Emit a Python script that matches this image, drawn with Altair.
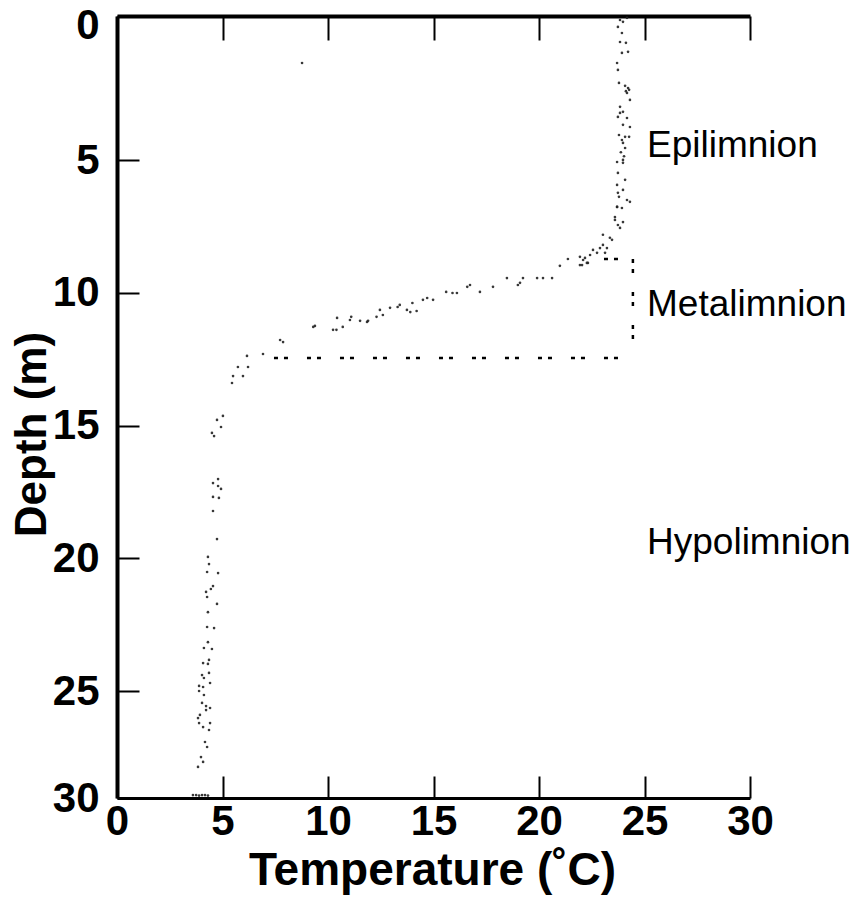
import altair as alt
import pandas as pd

FONT = "Liberation Sans"

# ---- tick values / labels ----
x_tick_values = [0, 5, 10, 15, 20, 25, 30]
y_tick_values = [-0.43, 5, 10, 15, 20, 25, 29.02]
y_tick_labels = ["0", "5", "10", "15", "20", "25", "30"]

# ---- temperature profile readings (deg C, m) ----
epi_temp = [23.84, 23.98, 24.17, 23.74, 23.93, 23.84, 24.12, 23.93, 24.22, 23.70,
            23.74, 23.79, 24.08, 24.27, 24.17, 24.31, 23.84, 23.98, 23.74, 24.17,
            23.98, 24.31, 23.79, 24.08, 24.27, 23.98, 24.08, 23.70, 23.98, 23.74,
            24.08, 23.70, 23.98, 23.79, 24.17, 24.31, 23.70, 23.93, 23.60, 23.98,
            23.74, 23.84, 23.84, 23.93, 23.98, 23.74, 23.70, 23.60, 24.22, 24.12,
            23.88, 24.03]
epi_depth = [-0.28, -0.21, -0.36, -0.02, 0.21, 0.55, 0.58, 0.96, 0.92, 1.34,
             1.60, 2.09, 2.20, 2.35, 2.47, 2.73, 2.99, 3.18, 3.37, 3.41,
             3.67, 3.75, 4.05, 4.12, 4.12, 4.35, 4.54, 5.07, 4.99, 5.48,
             5.74, 5.93, 6.12, 6.38, 6.50, 6.57, 6.76, 6.80, 7.14, 7.33,
             7.44, 7.55, 3.22, 4.24, 5.10, 6.23, 6.76, 7.25, 2.28, 2.40,
             4.70, 4.85]

meta_temp = [23.46, 23.03, 22.89, 23.22, 22.56, 22.75, 23.13, 22.42, 22.09, 22.32,
             22.04, 23.36, 23.03, 21.94, 22.18, 21.94, 22.27, 21.37, 20.99, 20.62,
             20.19, 19.91, 19.24, 19.10, 19.00, 18.48, 17.82, 16.73, 16.11, 14.98,
             14.50, 13.74, 12.94, 12.46, 11.85, 11.52, 11.04, 10.43, 10.24, 9.38,
             7.73, 6.92, 6.16, 5.73, 6.21, 5.97, 5.50, 5.45, 17.20, 16.60,
             15.90, 15.60, 14.70, 14.00, 13.40, 13.90, 14.20, 13.30, 12.60, 12.30,
             11.90, 11.10, 10.70, 10.40, 9.30, 7.87, 5.02, 4.74, 4.93, 4.50,
             4.60]
meta_depth = [8.00, 8.19, 8.31, 8.31, 8.38, 8.49, 8.49, 8.57, 8.76, 8.87,
              8.95, 7.92, 7.81, 8.64, 8.68, 8.95, 8.87, 8.72, 8.98, 9.44,
              9.44, 9.44, 9.44, 9.62, 9.70, 9.44, 9.77, 9.70, 10.00, 10.26,
              10.26, 10.64, 10.56, 10.64, 11.09, 11.05, 11.02, 10.94, 11.39, 11.24,
              11.77, 12.30, 12.37, 12.79, 12.79, 13.13, 13.13, 13.39, 9.96, 9.77,
              10.00, 9.96, 10.19, 10.38, 10.45, 10.72, 10.68, 10.53, 10.83, 10.90,
              11.05, 10.90, 11.28, 11.39, 11.28, 11.85, 14.63, 14.78, 15.05, 15.27,
              15.39]

hypo_temp = [4.79, 4.55, 4.79, 4.93, 4.55, 4.83, 4.55, 4.74, 4.31, 4.36,
             4.27, 4.79, 4.55, 4.45, 4.22, 4.27, 4.74, 4.31, 4.27, 4.60,
             4.31, 4.12, 4.50, 4.36, 4.31, 4.08, 4.36, 4.03, 4.12, 4.41,
             3.89, 4.08, 3.89, 4.12, 4.03, 4.22, 4.41, 4.22, 3.93, 3.84,
             3.89, 4.08, 4.41, 4.36, 4.17, 4.27, 3.98, 4.08, 3.84, 3.60,
             3.75, 3.89, 4.03, 4.17, 4.31]
hypo_depth = [17.01, 17.16, 17.27, 17.38, 17.68, 17.72, 18.21, 19.27, 19.94, 20.21,
              20.51, 20.55, 21.04, 21.15, 21.26, 21.45, 21.71, 22.02, 22.58, 22.62,
              23.15, 23.37, 23.41, 23.82, 23.97, 23.94, 24.31, 24.39, 24.50, 24.69,
              24.80, 24.84, 24.99, 25.14, 25.44, 25.56, 25.63, 25.71, 25.89, 26.01,
              26.20, 26.35, 26.20, 26.46, 26.91, 27.10, 27.48, 27.66, 27.85, 28.91,
              28.91, 28.93, 28.91, 28.91, 28.93]

outlier_temp = [8.77]
outlier_depth = [1.34]

# ---- metalimnion bracket (dashed) ----
seg_t1 = [23.08, 24.45, 7.44]
seg_t2 = [24.45, 24.45, 24.45]
seg_d1 = [8.72, 8.72, 12.45]
seg_d2 = [8.72, 12.45, 12.45]

# ---- zone labels ----
zone_names = ["Epilimnion", "Metalimnion", "Hypolimnion"]
zone_temp = [25.12, 25.12, 25.12]
zone_depth = [4.46, 10.45, 19.42]

pts = pd.DataFrame({
    "temp": epi_temp + meta_temp + hypo_temp + outlier_temp,
    "depth": epi_depth + meta_depth + hypo_depth + outlier_depth,
})
segs = pd.DataFrame({"t1": seg_t1, "t2": seg_t2, "d1": seg_d1, "d2": seg_d2})
zones = pd.DataFrame({"name": zone_names, "temp": zone_temp, "depth": zone_depth})

x_scale = alt.Scale(domain=[0, 30], nice=False, zero=False)
y_scale = alt.Scale(domain=[y_tick_values[0], y_tick_values[-1]], nice=False,
                    zero=False, reverse=True)

label_expr = "{}[indexof({}, datum.value)]".format(
    "[" + ",".join("'%s'" % s for s in y_tick_labels) + "]",
    "[" + ",".join(str(v) for v in y_tick_values) + "]",
)

x_bottom = alt.Axis(
    orient="bottom", values=x_tick_values, format="d", grid=False,
    title="Temperature (˚C)", titleFont=FONT, titleFontSize=46,
    titleFontWeight="bold", titleColor="black", titleX=315, titleY=86,
    titleBaseline="alphabetic", titleAlign="center",
    labelFont=FONT, labelFontSize=42, labelFontWeight="bold", labelColor="black",
    labelFlush=False, labelPadding=25, labelBaseline="top",
    tickSize={"expr": "-22"}, tickWidth=2, tickColor="black",
    domainWidth=3, domainColor="black",
)
x_top = alt.Axis(
    orient="top", values=x_tick_values, grid=False, labels=False, title=None,
    tickSize={"expr": "-24"}, tickWidth=2, tickColor="black",
    domainWidth=4, domainColor="black",
)
y_left = alt.Axis(
    orient="left", values=y_tick_values, labelExpr=label_expr, grid=False,
    title="Depth (m)", titleFont=FONT, titleFontSize=44, titleFontWeight="bold",
    titleColor="black", titleX=-72, titleY=418, titleAngle=270,
    titleBaseline="alphabetic", titleAlign="center",
    labelFont=FONT, labelFontSize=42, labelFontWeight="bold", labelColor="black",
    labelFlush=False, labelPadding=40,
    labelOffset={"condition": {"test": "datum.value < 0", "value": 9}, "value": 0},
    tickSize={"expr": "-22"}, tickWidth=2, tickColor="black",
    domainWidth=4, domainColor="black",
)

points = alt.Chart(pts).mark_circle(size=7, color="#222222", opacity=0.9).encode(
    x=alt.X("temp:Q", scale=x_scale, axis=x_bottom),
    y=alt.Y("depth:Q", scale=y_scale, axis=y_left),
)

bracket = alt.Chart(segs).mark_rule(
    strokeDash=[4, 6, 4, 19], strokeWidth=2.5, color="black"
).encode(
    x=alt.X("t1:Q", scale=x_scale, axis=x_top),
    x2="t2:Q",
    y=alt.Y("d1:Q", scale=y_scale, axis=None),
    y2="d2:Q",
)

labels = alt.Chart(zones).mark_text(
    align="left", baseline="middle", font=FONT, fontSize=37, color="black"
).encode(
    x=alt.X("temp:Q", scale=x_scale, axis=None),
    y=alt.Y("depth:Q", scale=y_scale, axis=None),
    text="name:N",
)

chart = alt.layer(points, bracket, labels).resolve_axis(
    x="independent", y="independent"
).properties(
    width=633, height=782,
    autosize=alt.AutoSizeParams(type="none"),
    padding={"left": 109, "top": 8, "right": 100, "bottom": 99},
    background="white",
).configure_view(stroke=None)

chart.save("out.html", embed_options={"renderer": "svg", "actions": False})
